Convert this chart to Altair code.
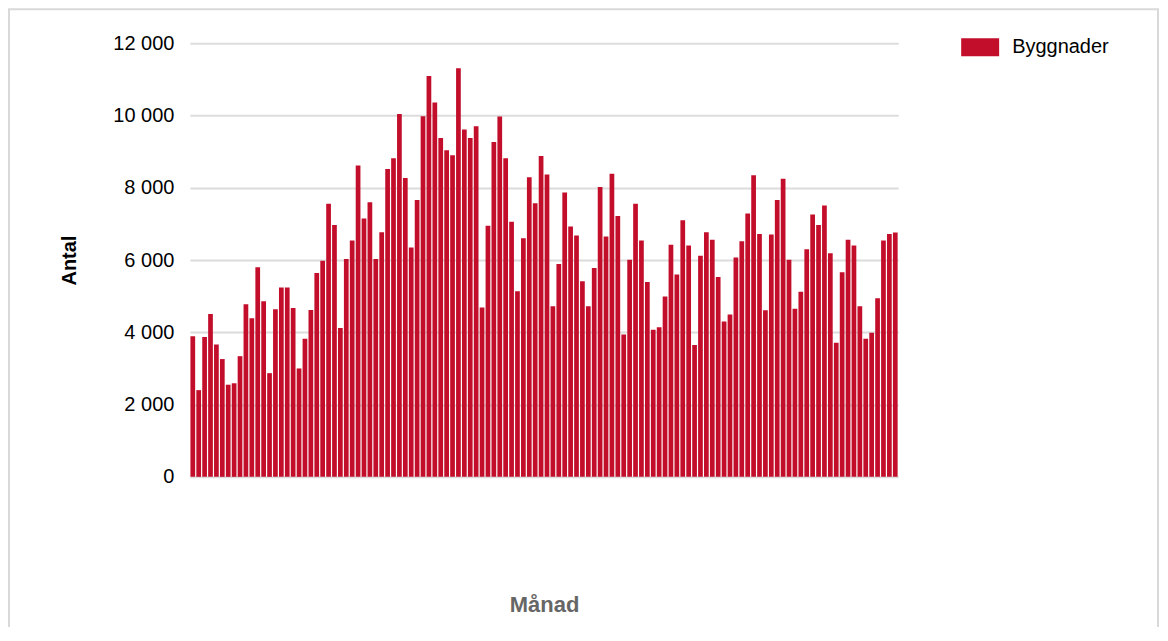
import altair as alt
import pandas as pd

# Monthly counts
byggnader = [
    3890, 2400, 3870, 4510, 3660, 3260, 2550, 2590, 3340, 4780,
    4390, 5800, 4860, 2870, 4640, 5240, 5240, 4670, 3000, 3820,
    4620, 5640, 5980, 7560, 6970, 4120, 6030, 6540, 8620, 7150,
    7600, 6030, 6770, 8520, 8820, 10040, 8270, 6350, 7660, 9980,
    11090, 10360, 9380, 9040, 8900, 11310, 9610, 9380, 9700, 4690,
    6950, 9270, 9970, 8820, 7060, 5140, 6600, 8290, 7570, 8880,
    8370, 4720, 5890, 7870, 6930, 6680, 5410, 4720, 5780, 8020,
    6650, 8390, 7220, 3940, 6010, 7560, 6540, 5390, 4070, 4140,
    4990, 6420, 5600, 7100, 6400, 3650, 6120, 6770, 6560, 5530,
    4300, 4490, 6070, 6520, 7290, 8350, 6720, 4610, 6710, 7660,
    8250, 6010, 4650, 5120, 6300, 7260, 6970, 7510, 6190, 3710,
    5660, 6560, 6400, 4720, 3820, 3990, 4940, 6540, 6720, 6760,
]
manad = [str(i) for i in range(1, len(byggnader) + 1)]
serie = ["Byggnader"] * len(byggnader)

df = pd.DataFrame({"Månad": manad, "Antal": byggnader, "serie": serie})

W, H = 709, 434
FONT = "Liberation Sans"
RED = "#C30E2B"

bars = alt.Chart(df).mark_bar(color=RED).encode(
    x=alt.X(
        "Månad:O",
        sort=None,
        scale=alt.Scale(paddingInner=0.2, paddingOuter=0.1),
        axis=alt.Axis(
            labels=False, ticks=False, domain=False,
            title="Månad", titleFont=FONT, titleFontSize=22, titleFontWeight="bold",
            titleColor="#666666", titleY=128, titleBaseline="middle",
        ),
    ),
    y=alt.Y(
        "Antal:Q",
        scale=alt.Scale(domain=[0, 12000]),
        axis=alt.Axis(
            values=[0, 2000, 4000, 6000, 8000, 10000, 12000],
            labelExpr="replace(format(datum.value, ',d'), ',', ' ')",
            labelFont=FONT, labelFontSize=20, labelColor="#000000",
            labelPadding=16, ticks=False, domain=False,
            grid=True, gridColor="#dcdcdc", gridWidth=2,
            title="Antal", titleFont=FONT, titleFontSize=20, titleFontWeight="bold",
            titleColor="#000000", titleAngle=-90, titleX=-120, titleY=217,
            titleAlign="center", titleBaseline="middle",
        ),
    ),
    color=alt.Color(
        "serie:N",
        scale=alt.Scale(domain=["Byggnader"], range=[RED]),
        legend=alt.Legend(
            title=None, orient="none", legendX=772, legendY=-15,
            symbolType="M-1,-0.47L1,-0.47L1,0.47L-1,0.47Z", symbolSize=1444,
            symbolStrokeWidth=0, labelFont=FONT, labelFontSize=20,
            labelColor="#000000", labelOffset=13, padding=0,
        ),
    ),
)

border = alt.Chart(pd.DataFrame({"a": [0]})).mark_rect(
    filled=False, stroke="#d9d9d9", strokeWidth=2
).encode(
    x=alt.value(-181), x2=alt.value(969), y=alt.value(-34), y2=alt.value(700)
)

chart = alt.layer(border, bars).properties(
    width=W, height=H,
    autosize=alt.AutoSizeParams(type="none"),
    padding={"left": 182, "top": 35, "right": 262, "bottom": 150},
).configure_view(stroke=None)

chart.save("out.html", embed_options={"renderer": "svg", "actions": False})
